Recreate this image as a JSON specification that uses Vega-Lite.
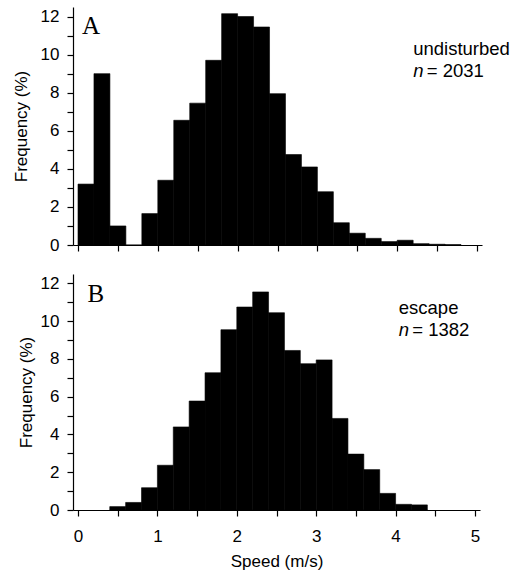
{
  "$schema": "https://vega.github.io/schema/vega-lite/v6.json",
  "padding": {"left": 12, "top": 7, "right": 5, "bottom": 5},
  "spacing": 21,
  "columns": 1,
  "align": "none",
  "datasets": {
    "top": [
      {"start": 0.0, "end": 0.2, "freq": 3.2},
      {"start": 0.2, "end": 0.4, "freq": 9.0},
      {"start": 0.4, "end": 0.6, "freq": 1.0},
      {"start": 0.6, "end": 0.8, "freq": 0},
      {"start": 0.8, "end": 1.0, "freq": 1.65},
      {"start": 1.0, "end": 1.2, "freq": 3.4},
      {"start": 1.2, "end": 1.4, "freq": 6.55},
      {"start": 1.4, "end": 1.6, "freq": 7.45},
      {"start": 1.6, "end": 1.8, "freq": 9.7},
      {"start": 1.8, "end": 2.0, "freq": 12.15},
      {"start": 2.0, "end": 2.2, "freq": 12.0},
      {"start": 2.2, "end": 2.4, "freq": 11.45},
      {"start": 2.4, "end": 2.6, "freq": 7.95},
      {"start": 2.6, "end": 2.8, "freq": 4.75},
      {"start": 2.8, "end": 3.0, "freq": 4.1},
      {"start": 3.0, "end": 3.2, "freq": 2.8},
      {"start": 3.2, "end": 3.4, "freq": 1.17},
      {"start": 3.4, "end": 3.6, "freq": 0.62},
      {"start": 3.6, "end": 3.8, "freq": 0.35},
      {"start": 3.8, "end": 4.0, "freq": 0.18},
      {"start": 4.0, "end": 4.2, "freq": 0.25},
      {"start": 4.2, "end": 4.4, "freq": 0.07},
      {"start": 4.4, "end": 4.6, "freq": 0.04},
      {"start": 4.6, "end": 4.8, "freq": 0.02}
    ],
    "bottom": [
      {"start": 0.4, "end": 0.6, "freq": 0.18},
      {"start": 0.6, "end": 0.8, "freq": 0.4},
      {"start": 0.8, "end": 1.0, "freq": 1.18},
      {"start": 1.0, "end": 1.2, "freq": 2.37},
      {"start": 1.2, "end": 1.4, "freq": 4.4},
      {"start": 1.4, "end": 1.6, "freq": 5.77},
      {"start": 1.6, "end": 1.8, "freq": 7.27},
      {"start": 1.8, "end": 2.0, "freq": 9.55},
      {"start": 2.0, "end": 2.2, "freq": 10.75},
      {"start": 2.2, "end": 2.4, "freq": 11.55},
      {"start": 2.4, "end": 2.6, "freq": 10.45},
      {"start": 2.6, "end": 2.8, "freq": 8.45},
      {"start": 2.8, "end": 3.0, "freq": 7.75},
      {"start": 3.0, "end": 3.2, "freq": 7.95},
      {"start": 3.2, "end": 3.4, "freq": 4.85},
      {"start": 3.4, "end": 3.6, "freq": 2.96},
      {"start": 3.6, "end": 3.8, "freq": 2.14},
      {"start": 3.8, "end": 4.0, "freq": 0.88},
      {"start": 4.0, "end": 4.2, "freq": 0.3},
      {"start": 4.2, "end": 4.4, "freq": 0.27}
    ]
  },
  "concat": [
    {
      "width": 409,
      "height": 238,
      "layer": [
        {
          "data": {"name": "top"},
          "mark": {"type": "bar", "color": "black", "stroke": "black", "strokeWidth": 0.6, "orient": "vertical"},
          "encoding": {
            "x": {"field": "start", "type": "quantitative",
                  "scale": {"domain": [0, 5], "nice": false, "zero": false},
                  "axis": {"values": [0, 0.5, 1, 1.5, 2, 2.5, 3, 3.5, 4, 4.5, 5], "tickCount": 20, "labels": false, "title": null}},
            "x2": {"field": "end"},
            "y": {"field": "freq", "type": "quantitative",
                  "scale": {"domain": [0, 12.5], "nice": false},
                  "axis": {"values": [0,1,2,3,4,5,6,7,8,9,10,11,12],
                           "tickCount": 20,
                           "labelExpr": "datum.value % 2 === 0 ? format(datum.value, 'd') : ''",
                           "labelOverlap": false,
                           "titlePadding": 10,
                           "title": "Frequency (%)"}},
            "y2": {"datum": 0}
          }
        },
        {
          "data": {"values": [{"start": 0.05, "freq": 11.1, "label": "A"}]},
          "mark": {"type": "text", "font": "Liberation Serif", "fontSize": 25, "align": "left", "baseline": "alphabetic", "color": "black"},
          "encoding": {
            "x": {"field": "start", "type": "quantitative"},
            "y": {"field": "freq", "type": "quantitative"},
            "text": {"field": "label"}
          }
        },
        {
          "data": {"values": [{"start": 4.2, "freq": 10.0, "label": "undisturbed"}, {"start": 4.37, "freq": 8.8, "label": "= 2031"}]},
          "mark": {"type": "text", "font": "Liberation Sans", "fontSize": 18.5, "align": "left", "baseline": "alphabetic", "color": "black"},
          "encoding": {
            "x": {"field": "start", "type": "quantitative"},
            "y": {"field": "freq", "type": "quantitative"},
            "text": {"field": "label"}
          }
        },
        {
          "data": {"values": [{"start": 4.2, "freq": 8.8, "label": "n"}]},
          "mark": {"type": "text", "font": "Liberation Sans", "fontSize": 18.5, "fontStyle": "italic", "align": "left", "baseline": "alphabetic", "color": "black"},
          "encoding": {
            "x": {"field": "start", "type": "quantitative"},
            "y": {"field": "freq", "type": "quantitative"},
            "text": {"field": "label"}
          }
        }
      ]
    },
    {
      "width": 407,
      "height": 236,
      "layer": [
        {
          "data": {"name": "bottom"},
          "mark": {"type": "bar", "color": "black", "stroke": "black", "strokeWidth": 0.6, "orient": "vertical"},
          "encoding": {
            "x": {"field": "start", "type": "quantitative",
                  "scale": {"domain": [0, 5], "nice": false, "zero": false},
                  "axis": {"values": [0, 0.5, 1, 1.5, 2, 2.5, 3, 3.5, 4, 4.5, 5],
                           "tickCount": 20,
                           "labelExpr": "datum.value % 1 === 0 ? format(datum.value, 'd') : ''",
                           "labelOverlap": false,
                           "title": "Speed (m/s)"}},
            "x2": {"field": "end"},
            "y": {"field": "freq", "type": "quantitative",
                  "scale": {"domain": [0, 12.5], "nice": false},
                  "axis": {"values": [0,1,2,3,4,5,6,7,8,9,10,11,12],
                           "tickCount": 20,
                           "labelExpr": "datum.value % 2 === 0 ? format(datum.value, 'd') : ''",
                           "labelOverlap": false,
                           "titlePadding": 5,
                           "title": "Frequency (%)"}},
            "y2": {"datum": 0}
          }
        },
        {
          "data": {"values": [{"start": 0.12, "freq": 11.0, "label": "B"}]},
          "mark": {"type": "text", "font": "Liberation Serif", "fontSize": 25, "align": "left", "baseline": "alphabetic", "color": "black"},
          "encoding": {
            "x": {"field": "start", "type": "quantitative"},
            "y": {"field": "freq", "type": "quantitative"},
            "text": {"field": "label"}
          }
        },
        {
          "data": {"values": [{"start": 4.04, "freq": 10.36, "label": "escape"}, {"start": 4.21, "freq": 9.19, "label": "= 1382"}]},
          "mark": {"type": "text", "font": "Liberation Sans", "fontSize": 18.5, "align": "left", "baseline": "alphabetic", "color": "black"},
          "encoding": {
            "x": {"field": "start", "type": "quantitative"},
            "y": {"field": "freq", "type": "quantitative"},
            "text": {"field": "label"}
          }
        },
        {
          "data": {"values": [{"start": 4.04, "freq": 9.19, "label": "n"}]},
          "mark": {"type": "text", "font": "Liberation Sans", "fontSize": 18.5, "fontStyle": "italic", "align": "left", "baseline": "alphabetic", "color": "black"},
          "encoding": {
            "x": {"field": "start", "type": "quantitative"},
            "y": {"field": "freq", "type": "quantitative"},
            "text": {"field": "label"}
          }
        }
      ]
    }
  ],
  "config": {
    "view": {"stroke": null},
    "font": "Liberation Sans",
    "axis": {
      "grid": false,
      "domainColor": "black",
      "tickColor": "black",
      "labelColor": "black",
      "titleColor": "black",
      "labelFont": "Liberation Sans",
      "titleFont": "Liberation Sans",
      "labelFontSize": 17,
      "titleFontSize": 17,
      "titleFontWeight": "normal",
      "labelOverlap": false,
      "labelFlush": false,
      "tickSize": 6,
      "domainWidth": 1.2,
      "tickWidth": 1.2
    },
    "axisY": {"labelPadding": 8, "titlePadding": 5},
    "axisX": {"labelPadding": 12, "titlePadding": 9}
  }
}
